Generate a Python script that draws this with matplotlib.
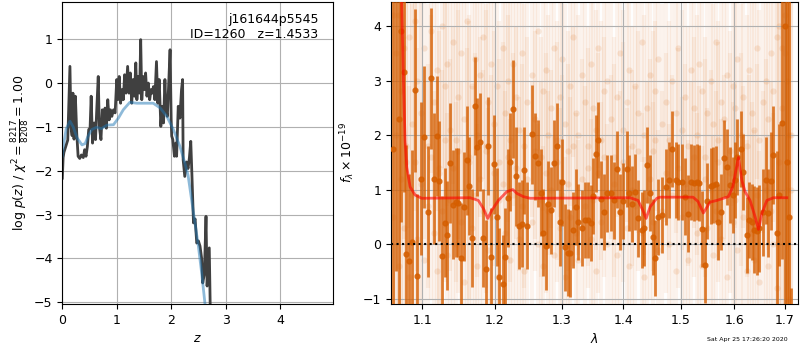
import numpy as np
import matplotlib
matplotlib.use('Agg')
import matplotlib.pyplot as plt
from matplotlib.ticker import FixedLocator, NullLocator, FormatStrFormatter

# ---- p(z) panel ----
z_grid = [0.000, 0.015, 0.030, 0.050, 0.075, 0.100, 0.140, 0.160, 0.180, 0.195,
          0.215, 0.240, 0.265, 0.290, 0.320, 0.350, 0.385, 0.410, 0.435, 0.460,
          0.485, 0.510, 0.530, 0.555, 0.585, 0.610, 0.630, 0.660, 0.680, 0.710,
          0.735, 0.760, 0.785, 0.810, 0.835, 0.860, 0.885, 0.910, 0.940, 0.970,
          1.000, 1.020, 1.045, 1.070, 1.095, 1.120, 1.145, 1.170, 1.200, 1.225,
          1.250, 1.275, 1.300, 1.325, 1.350, 1.370, 1.395, 1.420, 1.440, 1.460,
          1.485, 1.510, 1.530, 1.555, 1.580, 1.605, 1.630, 1.650, 1.675, 1.700,
          1.730, 1.755, 1.780, 1.810, 1.835, 1.860, 1.885, 1.905, 1.930, 1.955,
          1.980, 2.000, 2.010, 2.030, 2.060, 2.085, 2.100, 2.130, 2.160, 2.190,
          2.210, 2.220, 2.250, 2.280, 2.310, 2.335, 2.360, 2.380, 2.410, 2.440,
          2.470, 2.500, 2.530, 2.560, 2.580, 2.610, 2.640, 2.660, 2.700, 2.720]
log_pz = [-2.17, -1.70, -1.58, -1.50, -1.40, -1.30, 0.38, -1.00, -1.20, -0.23,
          -1.28, -0.30, -1.15, -1.67, -1.72, -1.64, -1.70, -1.52, -1.67, -1.45,
          -1.06, -1.03, -0.30, -1.37, -0.91, -1.29, -0.68, 0.15, -1.00, -1.29,
          -0.61, -0.99, -0.57, -1.03, -0.38, -0.84, -0.61, -0.76, -0.61, -0.68,
          0.08, -0.38, 0.15, -0.46, -0.15, -0.38, 0.19, -0.23, 0.38, -0.23,
          0.23, -0.46, 0.08, -0.30, 0.46, -0.38, 0.15, -0.23, 0.99, -0.38,
          0.15, -0.15, 0.23, -0.30, 0.00, -0.38, -0.15, -0.23, -0.08, -0.38,
          0.49, -0.46, 0.08, -0.99, -0.53, -0.91, 0.08, -0.61, -0.76, 0.00,
          0.76, -0.84, -1.21, -1.29, -1.67, -1.37, -1.67, -0.53, -0.80, -0.15,
          0.08, -1.75, -2.13, -1.80, -1.95, -1.70, -1.33, -2.05, -3.19, -3.10,
          -3.65, -3.60, -3.72, -4.00, -4.56, -4.35, -3.04, -4.63, -3.76, -5.30]

z_smooth = [0.00, 0.02, 0.07, 0.14, 0.20, 0.27, 0.36, 0.42, 0.47, 0.54, 0.63,
            0.72, 0.82, 0.94, 1.03, 1.12, 1.24, 1.37, 1.55, 1.67, 1.80, 1.92,
            2.04, 2.16, 2.25, 2.31, 2.41, 2.50, 2.56, 2.62, 2.65]
log_smooth = [-1.67, -1.44, -1.05, -0.87, -1.00, -1.25, -1.41, -1.38, -1.22, -1.06, -1.01,
              -1.04, -0.96, -0.95, -0.80, -0.61, -0.44, -0.46, -0.46, -0.46, -0.57, -0.76,
              -1.06, -1.44, -1.82, -2.10, -2.96, -3.72, -4.33, -5.02, -5.40]

# ---- spectrum panel ----
wave = [1.0616, 1.0653, 1.0695, 1.0727, 1.0761, 1.0787, 1.0830, 1.0869, 1.0904, 1.0934,
        1.0978, 1.1026, 1.1080, 1.1115, 1.1160, 1.1192, 1.1227, 1.1267, 1.1304, 1.1335,
        1.1372, 1.1417, 1.1450, 1.1486, 1.1523, 1.1565, 1.1611, 1.1638, 1.1680, 1.1723,
        1.1751, 1.1789, 1.1836, 1.1874, 1.1907, 1.1941, 1.1989, 1.2027, 1.2065, 1.2115,
        1.2153, 1.2188, 1.2221, 1.2270, 1.2314, 1.2354, 1.2394, 1.2433, 1.2478, 1.2544,
        1.2594, 1.2644, 1.2680, 1.2720, 1.2761, 1.2796, 1.2838, 1.2889, 1.2935, 1.2977,
        1.3013, 1.3056, 1.3098, 1.3134, 1.3177, 1.3229, 1.3266, 1.3320, 1.3373, 1.3426,
        1.3470, 1.3507, 1.3546, 1.3588, 1.3632, 1.3686, 1.3736, 1.3792, 1.3847, 1.3892,
        1.3947, 1.4002, 1.4059, 1.4103, 1.4144, 1.4200, 1.4257, 1.4315, 1.4354, 1.4411,
        1.4458, 1.4505, 1.4545, 1.4592, 1.4663, 1.4739, 1.4797, 1.4850, 1.4911, 1.4958,
        1.5030, 1.5078, 1.5139, 1.5182, 1.5242, 1.5292, 1.5334, 1.5395, 1.5445, 1.5488,
        1.5551, 1.5600, 1.5650, 1.5694, 1.5745, 1.5801, 1.5853, 1.5916, 1.5965, 1.6011,
        1.6056, 1.6121, 1.6172, 1.6238, 1.6289, 1.6336, 1.6387, 1.6434, 1.6485, 1.6553,
        1.6613, 1.6665, 1.6713, 1.6765, 1.6834, 1.6880, 1.6935, 1.7002, 1.7035, 1.7080,
        1.7120]
flux = [1.74, 5.50, 2.30, 3.90, 3.16, -0.18, -0.31, 0.03, 2.82, -0.59,
        1.20, 1.96, 0.59, 3.04, 1.20, 1.98, 1.15, -0.22, 0.39, 0.16,
        1.48, 0.72, 0.77, 0.76, -0.25, 0.68, 1.54, 1.07, 0.11, 2.54,
        1.78, 1.88, 0.11, -0.45, 1.80, -0.24, 1.46, 0.50, -0.60, -0.73,
        -0.24, 0.85, 1.51, 2.48, 1.24, 0.34, 0.37, 1.35, 0.34, 2.01,
        1.61, 1.48, 0.94, 0.21, -0.04, 0.73, 0.62, 1.48, 1.79, 0.40,
        1.13, -0.06, -0.16, -0.17, 0.26, 0.68, 0.41, 0.29, 0.44, 0.44,
        0.39, 0.88, 1.66, 1.91, 0.82, 0.59, 0.93, 0.94, 0.80, 1.37,
        0.59, 0.79, 1.38, 0.94, 0.74, 0.95, 0.47, 0.26, 0.29, 1.45,
        0.94, 0.13, -0.26, 0.50, 0.53, 1.05, 1.17, 1.75, 1.17, 1.14,
        1.14, 0.87, 0.56, 1.14, 1.12, 1.14, 1.12, 0.27, -0.39, 0.79,
        1.06, 1.08, 1.10, 0.41, 0.59, 1.57, 1.41, 1.08, 0.90, 1.17,
        1.60, 1.75, 1.32, 0.16, 0.44, 0.41, 0.26, 0.24, 0.29, 0.58,
        1.17, 0.57, 1.16, 1.64, 0.20, 0.90, 2.23, 4.00, 1.50, 0.50,
        -3.60]
flux_err = [6.0, 6.0, 5.0, 3.5, 2.2, 2.0, 1.6, 1.7, 1.5, 1.5,
            1.4, 1.3, 1.2, 1.3, 1.2, 1.1, 1.1, 1.1, 1.0, 1.0,
            1.1, 1.0, 1.0, 1.0, 1.0, 1.0, 1.0, 0.9, 0.9, 0.9,
            0.9, 0.9, 0.9, 0.9, 0.9, 0.9, 0.9, 0.9, 0.9, 0.9,
            0.9, 0.9, 0.9, 0.9, 0.9, 0.8, 0.8, 0.8, 0.8, 0.9,
            0.8, 0.8, 0.8, 0.8, 0.8, 0.8, 0.8, 0.8, 0.8, 0.8,
            0.8, 0.8, 0.8, 0.8, 0.7, 0.7, 0.7, 0.7, 0.7, 0.7,
            0.7, 0.7, 0.7, 0.7, 0.7, 0.7, 0.7, 0.7, 0.7, 0.7,
            0.7, 0.7, 0.7, 0.7, 0.7, 0.7, 0.7, 0.7, 0.7, 0.7,
            0.7, 0.7, 0.7, 0.7, 0.7, 0.7, 0.7, 0.7, 0.7, 0.7,
            0.7, 0.7, 0.7, 0.7, 0.7, 0.7, 0.7, 0.7, 0.7, 0.7,
            0.7, 0.7, 0.7, 0.7, 0.7, 0.7, 0.7, 0.7, 0.7, 0.7,
            0.7, 0.7, 0.7, 0.7, 0.7, 0.7, 0.8, 0.8, 0.8, 0.8,
            0.8, 0.8, 0.9, 0.9, 1.5, 1.3, 2.5, 6.0, 6.0, 6.0,
            2.8]

# individual (unbinned) beam spectra, faint in the background
flux_beam_a = [4.2, 3.5, 4.2, 2.8, 3.6, 1.5, 3.8, 2.2, 4.1, 3.0,
               2.4, 3.6, 1.8, 3.9, 2.6, 3.2, 1.4, 4.0, 2.9, 3.3,
               2.1, 3.7, 1.9, 2.7, 3.5, 2.3, 4.1, 1.6, 2.9, 3.4,
               2.0, 3.1, 3.8, 1.7, 2.6, 3.3, 2.2, 2.9, 1.5, 3.6,
               2.4, 3.0, 1.9, 3.3, 2.7, 2.1, 3.5, 1.8, 2.6, 3.1,
               2.3, 3.9, 1.6, 2.8, 3.2, 2.0, 2.5, 3.6, 1.9, 2.7,
               3.4, 2.2, 1.7, 2.9, 3.8, 2.4, 2.0, 3.1, 2.6, 1.8,
               3.3, 2.5, 2.1, 3.6, 1.9, 2.8, 3.0, 2.3, 1.6, 2.7,
               3.5, 2.1, 2.6, 3.2, 1.8, 2.9, 2.4, 3.7, 2.0, 2.5,
               3.1, 1.7, 2.8, 3.4, 2.2, 2.6, 1.9, 3.0, 2.4, 3.6,
               2.1, 2.7, 1.8, 3.2, 2.5, 2.0, 3.3, 2.8, 1.6, 2.4,
               3.0, 2.2, 3.7, 1.9, 2.6, 2.3, 3.1, 1.7, 2.9, 2.5,
               3.4, 2.0, 2.7, 1.8, 3.2, 2.4, 2.1, 3.6, 1.9, 2.6,
               3.0, 2.3, 3.5, 2.8, 3.8, 4.0, 3.6, 4.2, 3.0, 2.0,
               1.0]
flux_beam_b = [0.5, 2.0, -0.4, 1.2, 0.3, 1.8, -0.6, 0.9, 1.5, 0.1,
               1.1, -0.3, 0.7, 1.6, 0.2, -0.5, 1.3, 0.6, 1.9, -0.2,
               0.8, 1.4, 0.0, 1.7, 0.4, -0.7, 1.0, 1.5, 0.3, 0.9,
               -0.4, 1.2, 0.6, 1.8, -0.1, 0.5, 1.3, -0.6, 0.8, 1.1,
               0.2, 1.6, -0.3, 0.9, 1.4, 0.1, 0.7, -0.5, 1.2, 0.4,
               1.7, 0.0, 0.8, -0.4, 1.3, 0.6, 1.0, -0.2, 1.5, 0.3,
               0.9, -0.6, 1.1, 0.5, 1.8, 0.2, -0.3, 1.2, 0.7, 1.4,
               0.1, 0.8, -0.5, 1.3, 0.4, 1.6, 0.0, 0.9, 1.1, -0.2,
               0.6, 1.5, 0.3, -0.4, 1.0, 0.7, 1.7, 0.2, -0.6, 0.8,
               1.2, 0.4, 1.9, -0.1, 0.6, 1.3, 0.0, 0.9, -0.5, 1.4,
               0.5, 1.1, -0.3, 0.8, 1.6, 0.2, 0.7, -0.4, 1.2, 0.3,
               1.0, -0.2, 0.6, 1.5, 0.1, 0.9, -0.6, 1.3, 0.4, 0.8,
               -0.1, 1.1, 0.5, -0.5, 0.7, 0.2, -0.3, 0.9, -0.7, 0.4,
               1.0, -0.4, 0.6, 0.0, -0.8, 1.5, 2.5, 3.5, 1.0, -1.0,
               2.0]
flux_beam_err = [8.0] * 4 + [3.5] * 8 + [2.6] * 38 + [2.2] * 70 + [2.4] * 14 + [6.0] * 7

model_wave = [1.0703, 1.0731, 1.0752, 1.0774, 1.0796, 1.0839, 1.0904, 1.0992, 1.1648, 1.1765,
              1.1836, 1.1898, 1.1956, 1.2051, 1.2173, 1.2261, 1.2320, 1.2418, 1.2518, 1.4115,
              1.4251, 1.4332, 1.4389, 1.4458, 1.4575, 1.4632, 1.5224, 1.5315, 1.5413, 1.5538,
              1.5663, 1.5883, 1.5967, 1.6075, 1.6141, 1.6205, 1.6302, 1.6401, 1.6466, 1.6533,
              1.6633, 1.6765, 1.7037]
model_flux = [6.00, 4.40, 3.06, 1.90, 1.41, 1.05, 0.90, 0.84, 0.85, 0.80,
              0.65, 0.47, 0.62, 0.80, 0.96, 1.00, 0.93, 0.87, 0.84, 0.85,
              0.80, 0.62, 0.47, 0.68, 0.84, 0.86, 0.86, 0.78, 0.57, 0.77,
              0.80, 0.87, 1.05, 1.59, 1.17, 0.96, 0.80, 0.50, 0.27, 0.56,
              0.80, 0.85, 0.85]

g141_color = '#D55E00'

plt.rcParams['font.size'] = 9
fig = plt.figure(figsize=(8, 3.5), dpi=100)

# левая панель: p(z)
ax1 = fig.add_axes([0.0779, 0.1314, 0.3388, 0.8643])
ax1.plot(z_grid, log_pz, color='0.25', lw=2)
ax1.plot(z_smooth, log_smooth, color='C0', alpha=0.5, lw=2)
ax1.set_xlim(0, 4.98)
ax1.set_ylim(-5.04, 1.86)
ax1.set_xticks([0, 1, 2, 3, 4])
ax1.set_yticks([-5, -4, -3, -2, -1, 0, 1])
ax1.set_xlabel('$z$')
ax1.set_ylabel(r'log $p(z)$ / $\chi^2=\frac{8217}{8208}=1.00$', labelpad=2)
ax1.text(0.945, 0.962, 'j161644p5545\nID=1260   z=1.4533', transform=ax1.transAxes,
         ha='right', va='top', multialignment='right')
ax1.grid()

# правая панель: спектр
ax2 = fig.add_axes([0.4888, 0.1314, 0.5091, 0.8643])
for fb in (flux_beam_a, flux_beam_b):
    ax2.errorbar(wave, fb, flux_beam_err, fmt='none', ecolor=g141_color, alpha=0.07,
                 elinewidth=3, capsize=0, zorder=1)
    ax2.plot(wave, fb, 'o', color=g141_color, alpha=0.13, ms=4.5, mew=0, zorder=1)
ax2.errorbar(wave, flux, flux_err, fmt='o', color=g141_color, alpha=0.8,
             ms=3.5, elinewidth=2, capsize=0, zorder=3)
ax2.plot(model_wave, model_flux, color='r', alpha=0.6, lw=2, zorder=4)
ax2.axhline(0, color='k', ls=':', lw=1.5, zorder=5)
ax2.set_xscale('log')
ax2.set_xlim(1.0594, 1.7274)
ax2.set_ylim(-1.1, 4.45)
ax2.xaxis.set_major_locator(FixedLocator([1.1, 1.2, 1.3, 1.4, 1.5, 1.6, 1.7]))
ax2.xaxis.set_major_formatter(FormatStrFormatter('%.1f'))
ax2.xaxis.set_minor_locator(NullLocator())
ax2.set_yticks([-1, 0, 1, 2, 3, 4])
ax2.set_xlabel(r'$\lambda$')
ax2.set_ylabel(r'$f_\lambda\times10^{-19}$')
ax2.grid()

fig.text(0.985, 0.031, 'Sat Apr 25 17:26:20 2020', ha='right', va='center', fontsize=4.5)

fig.savefig('out.png', dpi=100)
